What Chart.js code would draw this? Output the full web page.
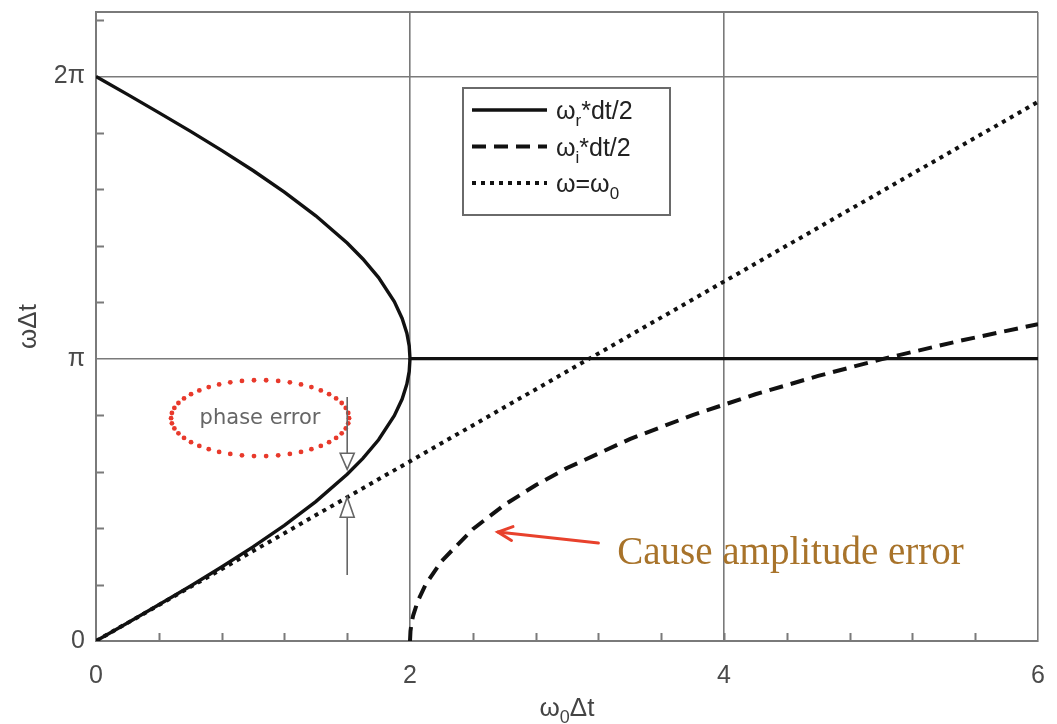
<!DOCTYPE html>
<html>
<head>
<meta charset="utf-8">
<script src="https://cdn.jsdelivr.net/npm/chart.js@4/dist/chart.umd.min.js"></script>
<style>
  html, body { margin: 0; padding: 0; background: #fff; }
  #wrap { width: 1057px; height: 724px; position: relative; }
</style>
</head>
<body>
<div id="wrap"><canvas id="c" width="1057" height="724"></canvas></div>
<script>
// ---- data ----
const xBranch  = [0, 0.2, 0.4, 0.6, 0.8, 1.0, 1.2, 1.4, 1.6, 1.7, 1.8, 1.9, 1.95, 1.98, 1.995, 2.0];
const wrLower  = [0, 0.200, 0.403, 0.609, 0.823, 1.047, 1.287, 1.551, 1.855, 2.032, 2.240, 2.507, 2.693, 2.859, 3.000, 3.142];
const wrUpper  = [6.283, 6.083, 5.880, 5.674, 5.460, 5.236, 4.996, 4.732, 4.429, 4.251, 4.044, 3.777, 3.590, 3.425, 3.283, 3.142];
const xFlat    = [2, 6];
const wrFlat   = [3.142, 3.142];
const xImag    = [2, 2.003, 2.01, 2.02, 2.05, 2.1, 2.2, 2.4, 2.6, 2.8, 3.0, 3.4, 3.8, 4.2, 4.6, 5.0, 5.5, 6.0];
const wiImag   = [0, 0.110, 0.200, 0.283, 0.446, 0.630, 0.887, 1.245, 1.513, 1.734, 1.925, 2.247, 2.514, 2.746, 2.950, 3.134, 3.340, 3.526];
const xRef     = [0, 6];
const wRef     = [0, 6];

const xTicks      = [0, 2, 4, 6];
const xTickLabels = ['0', '2', '4', '6'];
const yTicks      = [0, Math.PI, 2 * Math.PI];
const yTickLabels = ['0', 'π', '2π'];

const pts = (xs, ys) => xs.map((x, i) => ({ x: x, y: ys[i] }));

const AXIS = '#7a7a7a';
const INK = '#111';

const decor = {
  id: 'decor',
  beforeDatasetsDraw(chart) {
    const { ctx, chartArea: ca, scales: { x, y } } = chart;
    ctx.save();
    ctx.strokeStyle = AXIS;
    ctx.lineWidth = 2;
    ctx.beginPath(); ctx.moveTo(ca.left, ca.top); ctx.lineTo(ca.right, ca.top); ctx.stroke();
    ctx.beginPath();
    for (let v = 0.4; v < 6; v += 0.4) {
      const px = Math.round(x.getPixelForValue(v)) + 0.5;
      ctx.moveTo(px, ca.bottom); ctx.lineTo(px, ca.bottom - 8);
    }
    for (let k = 1; k <= 11; k++) {
      if (k % 5 === 0) continue;
      const py = Math.round(y.getPixelForValue(k * Math.PI / 5)) + 0.5;
      ctx.moveTo(ca.left, py); ctx.lineTo(ca.left + 8, py);
    }
    ctx.stroke();
    ctx.restore();
  },
  afterDatasetsDraw(chart) {
    const { ctx, chartArea: ca, scales: { x, y } } = chart;
    ctx.save();

    // ---- phase error ellipse ----
    const ecx = x.getPixelForValue(1.045), ecy = y.getPixelForValue(2.48);
    const erx = 89, ery = 38;
    ctx.fillStyle = '#e8392b';
    const N = 46;
    for (let i = 0; i < N; i++) {
      const a = i / N * Math.PI * 2;
      ctx.beginPath();
      ctx.arc(ecx + erx * Math.cos(a), ecy + ery * Math.sin(a), 2.4, 0, Math.PI * 2);
      ctx.fill();
    }
    ctx.fillStyle = '#666';
    ctx.font = '21px "DejaVu Sans"';
    ctx.textAlign = 'center'; ctx.textBaseline = 'middle';
    ctx.fillText('phase error', ecx, ecy);

    // ---- phase error arrows at x = 1.6 ----
    const ax = x.getPixelForValue(xBranch[8]);
    const tipDown = y.getPixelForValue(wrLower[8]) - 5;
    const tipUp = y.getPixelForValue(1.6);
    ctx.strokeStyle = '#666'; ctx.lineWidth = 1.6;
    ctx.beginPath();
    ctx.moveTo(ax, y.getPixelForValue(2.715)); ctx.lineTo(ax, tipDown - 16);
    ctx.moveTo(ax, y.getPixelForValue(0.735)); ctx.lineTo(ax, tipUp + 20);
    ctx.stroke();
    ctx.fillStyle = '#fff';
    ctx.beginPath();
    ctx.moveTo(ax, tipDown); ctx.lineTo(ax - 7, tipDown - 16); ctx.lineTo(ax + 7, tipDown - 16); ctx.closePath();
    ctx.fill(); ctx.stroke();
    ctx.beginPath();
    ctx.moveTo(ax, tipUp); ctx.lineTo(ax - 7, tipUp + 20); ctx.lineTo(ax + 7, tipUp + 20); ctx.closePath();
    ctx.fill(); ctx.stroke();

    // ---- amplitude error arrow + text ----
    const hx = x.getPixelForValue(2.56), hy = y.getPixelForValue(1.213);
    const tx = x.getPixelForValue(3.20), ty = y.getPixelForValue(1.09);
    ctx.strokeStyle = '#e8412c'; ctx.lineWidth = 3; ctx.lineCap = 'round';
    ctx.beginPath(); ctx.moveTo(tx, ty); ctx.lineTo(hx, hy); ctx.stroke();
    const ang = Math.atan2(hy - ty, hx - tx);
    ctx.beginPath();
    ctx.moveTo(hx - 16 * Math.cos(ang - 0.45), hy - 16 * Math.sin(ang - 0.45));
    ctx.lineTo(hx, hy);
    ctx.lineTo(hx - 16 * Math.cos(ang + 0.45), hy - 16 * Math.sin(ang + 0.45));
    ctx.stroke();
    ctx.lineCap = 'butt';
    ctx.fillStyle = '#a8732a';
    ctx.font = '39px "Liberation Serif"';
    ctx.textAlign = 'left'; ctx.textBaseline = 'alphabetic';
    ctx.fillText('Cause amplitude error', x.getPixelForValue(3.32), y.getPixelForValue(0.857));

    // ---- legend ----
    const lx = ca.left + 367, ly = ca.top + 76, lw = 207, lh = 127;
    ctx.fillStyle = '#fff';
    ctx.fillRect(lx, ly, lw, lh);
    ctx.strokeStyle = '#6a6a6a'; ctx.lineWidth = 2;
    ctx.strokeRect(lx, ly, lw, lh);
    const rows = [
      { ds: 0, parts: [['ω', 0], ['r', 1], ['*dt/2', 0]] },
      { ds: 2, parts: [['ω', 0], ['i', 1], ['*dt/2', 0]] },
      { ds: 3, parts: [['ω=ω', 0], ['0', 1]] },
    ];
    rows.forEach((r, i) => {
      const ds = chart.data.datasets[r.ds];
      const ry = ly + 22 + i * 36.5;
      ctx.strokeStyle = INK;
      ctx.lineWidth = ds.borderWidth;
      ctx.setLineDash(ds.borderDash || []);
      ctx.beginPath(); ctx.moveTo(lx + 9, ry); ctx.lineTo(lx + 84, ry); ctx.stroke();
      ctx.setLineDash([]);
      drawRich(ctx, r.parts, lx + 93, ry + 9, 25, '#222', 'left');
    });

    ctx.restore();
  },
  afterDraw(chart) {
    const { ctx, chartArea: ca } = chart;
    ctx.save();
    drawRich(ctx, [['ω', 0], ['0', 1], ['Δt', 0]], (ca.left + ca.right) / 2, 716, 26, '#444', 'center');
    ctx.translate(36, (ca.top + ca.bottom) / 2);
    ctx.rotate(-Math.PI / 2);
    drawRich(ctx, [['ωΔt', 0]], 0, 0, 26, '#444', 'center');
    ctx.restore();
  }
};

function drawRich(ctx, parts, x, y, size, color, align) {
  const fam = '"Liberation Sans", Arial, sans-serif';
  const fontFor = sub => (sub ? Math.round(size * 0.68) : size) + 'px ' + fam;
  let total = 0;
  parts.forEach(([t, sub]) => { ctx.font = fontFor(sub); total += ctx.measureText(t).width; });
  let cx = align === 'center' ? x - total / 2 : x;
  ctx.fillStyle = color;
  ctx.textAlign = 'left';
  ctx.textBaseline = 'alphabetic';
  parts.forEach(([t, sub]) => {
    ctx.font = fontFor(sub);
    ctx.fillText(t, cx, sub ? y + size * 0.28 : y);
    cx += ctx.measureText(t).width;
  });
}

const tickFont = { family: '"Liberation Sans", Arial, sans-serif', size: 25 };
const noPad = s => { s.paddingLeft = 0; s.paddingRight = 0; s.paddingTop = 0; s.paddingBottom = 0; };

new Chart(document.getElementById('c'), {
  type: 'line',
  data: {
    datasets: [
      { label: 'ωr*dt/2', data: pts(xBranch, wrUpper).concat(pts(xFlat, wrFlat).slice(1)),
        borderColor: INK, borderWidth: 3.4, pointRadius: 0, tension: 0, fill: false },
      { label: 'ωr*dt/2 (lower)', data: pts(xBranch, wrLower),
        borderColor: INK, borderWidth: 3.4, pointRadius: 0, tension: 0, fill: false },
      { label: 'ωi*dt/2', data: pts(xImag, wiImag),
        borderColor: INK, borderWidth: 4, borderDash: [14, 8], pointRadius: 0, tension: 0, fill: false },
      { label: 'ω=ω0', data: pts(xRef, wRef),
        borderColor: INK, borderWidth: 4, borderDash: [4, 5], pointRadius: 0, tension: 0, fill: false },
    ]
  },
  options: {
    responsive: false,
    animation: false,
    layout: { padding: { left: 0, top: 12, right: 19, bottom: 0 } },
    plugins: { legend: { display: false }, tooltip: { enabled: false } },
    scales: {
      x: {
        type: 'linear', min: 0, max: 6,
        afterBuildTicks: s => { s.ticks = xTicks.map(v => ({ value: v })); },
        afterFit: s => { s.height = 83; noPad(s); },
        ticks: { color: '#4a4a4a', font: tickFont, padding: 20, maxRotation: 0,
                 callback: (v) => xTickLabels[xTicks.indexOf(v)] },
        grid: { color: AXIS, lineWidth: 1.6, drawTicks: false },
        border: { color: AXIS, width: 2 }
      },
      y: {
        type: 'linear', min: 0, max: 7,
        afterBuildTicks: s => { s.ticks = yTicks.map(v => ({ value: v })); },
        afterFit: s => { s.width = 96; noPad(s); },
        ticks: { color: '#4a4a4a', font: tickFont, padding: 11,
                 callback: (v) => yTickLabels[yTicks.indexOf(v)] },
        grid: { color: AXIS, lineWidth: 1.6, drawTicks: false },
        border: { color: AXIS, width: 2 }
      }
    }
  },
  plugins: [decor]
});
</script>
</body>
</html>
